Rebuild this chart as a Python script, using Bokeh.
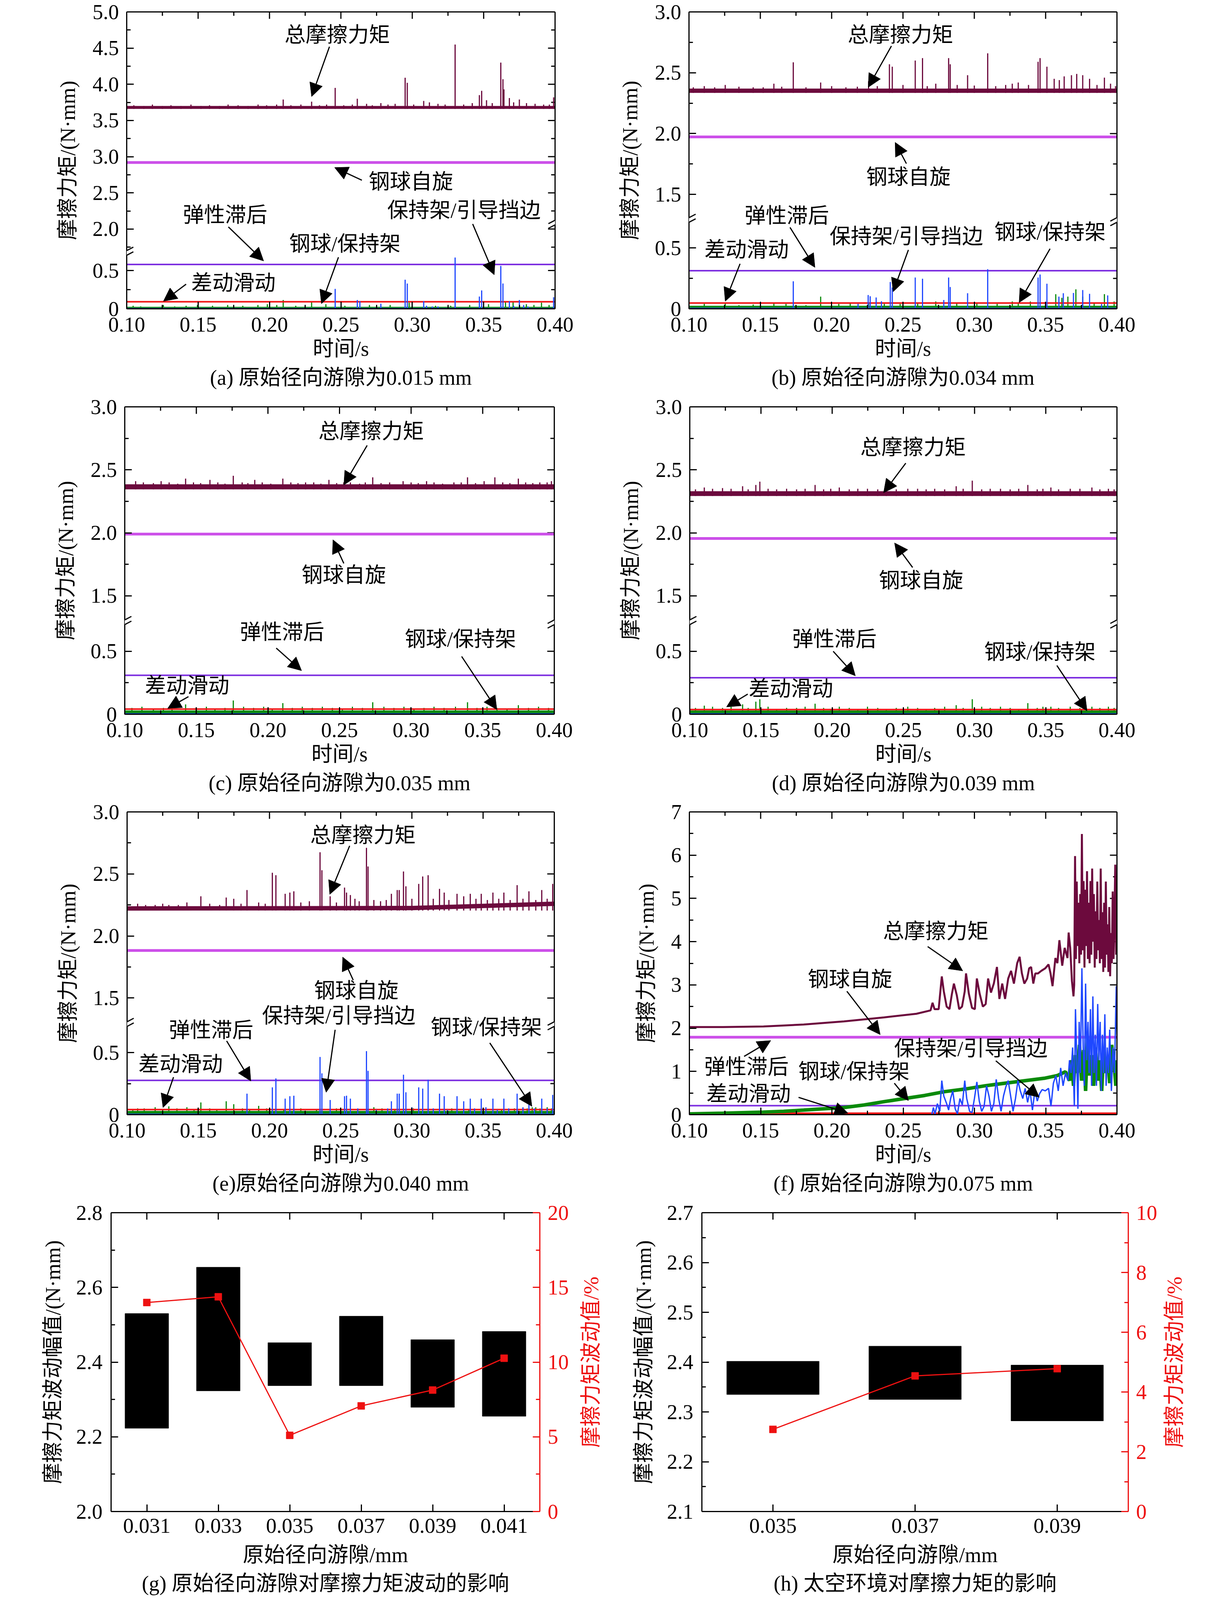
import math
from bokeh.plotting import figure
from bokeh.models import (Range1d, LinearAxis, FixedTicker, Label, Arrow, Title,
                          NormalHead, PrintfTickFormatter)
from bokeh.layouts import row, column
from bokeh.embed import file_html
from bokeh.resources import INLINE

FONT = "'Liberation Serif', 'Noto Sans CJK SC'"
FS = "54px"

# ---------------------------------------------------------------- data
Y_LABEL = "摩擦力矩/(N·mm)"
X_LABEL = "时间/s"
TIME_SPAN = [0.10, 0.40]
X_TICKS = [0.10, 0.15, 0.20, 0.25, 0.30, 0.35, 0.40]
X_MINOR = [0.125, 0.175, 0.225, 0.275, 0.325, 0.375]

# (a) clearance 0.015 mm
A_TOT_BASE, A_TOT_FUZZ = 3.66, 3.70
A_TOT_SPIKES = [(0.2096, 3.79), (0.2295, 3.76), (0.246, 3.95), (0.2615, 3.80), (0.278, 3.74),
                (0.295, 4.09), (0.2965, 4.02), (0.308, 3.77), (0.330, 4.55), (0.347, 3.85),
                (0.3486, 3.91), (0.362, 4.30), (0.3635, 4.07), (0.3642, 3.93), (0.368, 3.81),
                (0.375, 3.79), (0.399, 3.82),
                (0.105, 3.71), (0.112, 3.70), (0.118, 3.72), (0.125, 3.70), (0.131, 3.71),
                (0.138, 3.70), (0.145, 3.72), (0.152, 3.70), (0.158, 3.71), (0.165, 3.70),
                (0.171, 3.72), (0.178, 3.71), (0.185, 3.70), (0.192, 3.72), (0.198, 3.71),
                (0.205, 3.72), (0.215, 3.71), (0.222, 3.72), (0.235, 3.71), (0.240, 3.72),
                (0.252, 3.71), (0.258, 3.72), (0.268, 3.73), (0.272, 3.71), (0.283, 3.72),
                (0.288, 3.73), (0.301, 3.72), (0.312, 3.75), (0.318, 3.73), (0.323, 3.72),
                (0.336, 3.72), (0.342, 3.74), (0.352, 3.78), (0.356, 3.74), (0.371, 3.75),
                (0.380, 3.74), (0.386, 3.73), (0.392, 3.72), (0.396, 3.72)]
A_SPIN = 2.92
A_HYST = 0.58
A_DIFF = 0.092
A_GRN_FUZZ = 0.025
A_GRN_SPIKES = [(0.2096, 0.115), (0.2295, 0.10), (0.2978, 0.08), (0.3653, 0.10), (0.3706, 0.10),
                (0.3905, 0.08), (0.1045, 0.04), (0.1098, 0.03), (0.1257, 0.05), (0.1336, 0.03),
                (0.1416, 0.04), (0.1495, 0.05), (0.1601, 0.04), (0.1707, 0.05), (0.1813, 0.04),
                (0.1919, 0.05), (0.1985, 0.06), (0.2051, 0.05), (0.2184, 0.04), (0.2395, 0.06),
                (0.2528, 0.04), (0.2700, 0.05), (0.2845, 0.05), (0.3163, 0.04), (0.3269, 0.04),
                (0.3402, 0.05), (0.3534, 0.06), (0.3799, 0.06), (0.3852, 0.05), (0.3958, 0.05)]
A_BLU_SPIKES = [(0.246, 0.26), (0.2615, 0.115), (0.2633, 0.10), (0.278, 0.066), (0.295, 0.38),
                (0.2965, 0.33), (0.308, 0.10), (0.330, 0.67), (0.347, 0.16), (0.3486, 0.24),
                (0.362, 0.56), (0.3635, 0.33), (0.368, 0.10), (0.375, 0.115), (0.399, 0.15),
                (0.310, 0.04), (0.314, 0.03), (0.318, 0.03), (0.371, 0.04), (0.378, 0.05), (0.381, 0.03)]

# (b) clearance 0.034 mm
B_TOT_BASE, B_TOT_FUZZ = 2.335, 2.37
B_TOT_SPIKES = [(0.1731, 2.586), (0.1923, 2.42), (0.2405, 2.57), (0.2425, 2.55), (0.2586, 2.60),
                (0.2637, 2.62), (0.2820, 2.62), (0.2831, 2.57), (0.2953, 2.48), (0.3094, 2.66),
                (0.3447, 2.59), (0.3461, 2.62), (0.3509, 2.55), (0.3560, 2.45), (0.3596, 2.44),
                (0.3630, 2.47), (0.3681, 2.48), (0.3718, 2.49), (0.3760, 2.48), (0.3808, 2.45),
                (0.3912, 2.46), (0.3955, 2.41), (0.1254, 2.40), (0.1595, 2.41), (0.2259, 2.43),
                (0.2730, 2.41), (0.3266, 2.41), (0.3308, 2.42), (0.1107, 2.39),
                (0.103, 2.38), (0.118, 2.38), (0.135, 2.385), (0.145, 2.38), (0.152, 2.38),
                (0.165, 2.385), (0.182, 2.38), (0.200, 2.39), (0.210, 2.38), (0.218, 2.385),
                (0.232, 2.39), (0.250, 2.40), (0.267, 2.39), (0.288, 2.40), (0.300, 2.395),
                (0.315, 2.39), (0.322, 2.40), (0.338, 2.40), (0.386, 2.40), (0.399, 2.39)]
B_SPIN = 1.973
B_HYST = 0.313
B_DIFF = 0.047
B_GRN_FUZZ = 0.025
B_GRN_SPIKES = [(0.1107, 0.04), (0.1254, 0.05), (0.1595, 0.05), (0.1680, 0.04), (0.1923, 0.10),
                (0.2130, 0.05), (0.2259, 0.05), (0.2369, 0.04), (0.2603, 0.05), (0.2730, 0.06),
                (0.2877, 0.05), (0.3018, 0.05), (0.3266, 0.06), (0.3308, 0.05), (0.3393, 0.06),
                (0.3571, 0.12), (0.3614, 0.09), (0.3656, 0.10), (0.3712, 0.16), (0.3760, 0.10),
                (0.3912, 0.12), (0.3980, 0.06), (0.135, 0.03), (0.145, 0.035), (0.182, 0.03),
                (0.205, 0.04), (0.248, 0.04), (0.316, 0.04), (0.384, 0.05)]
B_BLU_SPIKES = [(0.1731, 0.226), (0.2185, 0.04), (0.2256, 0.113), (0.2270, 0.103), (0.2312, 0.093),
                (0.2349, 0.062), (0.2411, 0.22), (0.2425, 0.175), (0.2586, 0.257), (0.2637, 0.247),
                (0.2786, 0.072), (0.2820, 0.257), (0.2831, 0.179), (0.2953, 0.128), (0.3094, 0.325),
                (0.3447, 0.257), (0.3461, 0.282), (0.3509, 0.206), (0.3593, 0.10), (0.3624, 0.128),
                (0.3695, 0.13), (0.3760, 0.154), (0.3808, 0.123), (0.3892, 0.04), (0.3935, 0.11)]

# (c) clearance 0.035 mm
C_TOT_BASE, C_TOT_FUZZ = 2.345, 2.385
C_TOT_SPIKES = [(0.1758, 2.453), (0.1425, 2.43), (0.3394, 2.44), (0.3585, 2.44), (0.2732, 2.44),
                (0.2104, 2.43), (0.1076, 2.41), (0.1595, 2.42), (0.1908, 2.42), (0.2426, 2.42),
                (0.3108, 2.41), (0.3749, 2.43), (0.2944, 2.41), (0.1254, 2.41), (0.2263, 2.40),
                (0.2576, 2.40), (0.3299, 2.40), (0.3899, 2.40),
                (0.113, 2.40), (0.120, 2.395), (0.131, 2.40), (0.137, 2.39), (0.148, 2.40),
                (0.153, 2.395), (0.165, 2.40), (0.170, 2.39), (0.182, 2.40), (0.186, 2.395),
                (0.196, 2.40), (0.202, 2.39), (0.216, 2.40), (0.221, 2.395), (0.232, 2.40),
                (0.237, 2.39), (0.248, 2.395), (0.253, 2.40), (0.264, 2.39), (0.268, 2.40),
                (0.279, 2.395), (0.285, 2.40), (0.300, 2.40), (0.305, 2.395), (0.316, 2.40),
                (0.322, 2.39), (0.335, 2.40), (0.345, 2.395), (0.351, 2.41), (0.364, 2.40),
                (0.369, 2.395), (0.380, 2.40), (0.385, 2.395), (0.395, 2.40), (0.398, 2.41)]
C_SPIN = 1.99
C_HYST = 0.309
C_DIFF = 0.041
C_GRN_FUZZ = 0.03
C_GRN_SPIKES = [(0.1758, 0.109), (0.2732, 0.095), (0.3394, 0.095), (0.1425, 0.078), (0.2104, 0.088),
                (0.3749, 0.072), (0.105, 0.05), (0.112, 0.06), (0.120, 0.04), (0.127, 0.05),
                (0.133, 0.06), (0.150, 0.05), (0.157, 0.06), (0.163, 0.04), (0.170, 0.05),
                (0.183, 0.06), (0.190, 0.05), (0.197, 0.06), (0.203, 0.04), (0.217, 0.05),
                (0.224, 0.06), (0.231, 0.05), (0.238, 0.06), (0.245, 0.05), (0.252, 0.04),
                (0.259, 0.06), (0.266, 0.05), (0.281, 0.06), (0.288, 0.05), (0.295, 0.06),
                (0.302, 0.04), (0.309, 0.05), (0.316, 0.06), (0.323, 0.05), (0.331, 0.06),
                (0.346, 0.05), (0.353, 0.06), (0.360, 0.05), (0.367, 0.04), (0.382, 0.05),
                (0.389, 0.06), (0.396, 0.05)]
C_BLU_SPIKES = []

# (d) clearance 0.039 mm
D_TOT_BASE, D_TOT_FUZZ = 2.292, 2.33
D_TOT_SPIKES = [(0.1492, 2.406), (0.2984, 2.414), (0.3374, 2.38), (0.1464, 2.38), (0.1371, 2.37),
                (0.1880, 2.38), (0.1102, 2.36), (0.2871, 2.37), (0.3824, 2.36), (0.3536, 2.36),
                (0.2050, 2.36), (0.2531, 2.35), (0.3182, 2.35), (0.2248, 2.35), (0.3672, 2.35),
                (0.104, 2.345), (0.116, 2.35), (0.123, 2.355), (0.129, 2.35), (0.141, 2.345),
                (0.155, 2.35), (0.161, 2.345), (0.168, 2.35), (0.175, 2.345), (0.181, 2.35),
                (0.194, 2.345), (0.199, 2.35), (0.212, 2.345), (0.218, 2.35), (0.232, 2.345),
                (0.238, 2.35), (0.245, 2.345), (0.260, 2.35), (0.266, 2.345), (0.272, 2.35),
                (0.279, 2.345), (0.292, 2.35), (0.305, 2.345), (0.311, 2.35), (0.325, 2.345),
                (0.331, 2.35), (0.344, 2.345), (0.348, 2.35), (0.359, 2.345), (0.374, 2.35),
                (0.388, 2.345), (0.394, 2.35), (0.398, 2.345)]
D_SPIN = 1.955
D_HYST = 0.29
D_DIFF = 0.037
D_GRN_FUZZ = 0.03
D_GRN_SPIKES = [(0.1492, 0.119), (0.2984, 0.119), (0.1880, 0.084), (0.1464, 0.10), (0.3374, 0.088),
                (0.1371, 0.078), (0.1102, 0.068), (0.2871, 0.072), (0.104, 0.05), (0.116, 0.06),
                (0.123, 0.05), (0.129, 0.06), (0.141, 0.05), (0.155, 0.06), (0.161, 0.04),
                (0.168, 0.05), (0.175, 0.05), (0.181, 0.06), (0.194, 0.05), (0.199, 0.04),
                (0.2050, 0.06), (0.212, 0.05), (0.218, 0.04), (0.2248, 0.06), (0.232, 0.05),
                (0.238, 0.04), (0.245, 0.05), (0.2531, 0.06), (0.260, 0.05), (0.266, 0.04),
                (0.272, 0.05), (0.279, 0.06), (0.292, 0.05), (0.305, 0.06), (0.311, 0.05),
                (0.3182, 0.06), (0.325, 0.05), (0.331, 0.04), (0.344, 0.05), (0.348, 0.06),
                (0.3536, 0.06), (0.359, 0.05), (0.3672, 0.06), (0.374, 0.05), (0.3824, 0.06),
                (0.388, 0.05), (0.394, 0.06), (0.398, 0.05)]
D_BLU_SPIKES = []

# (e) clearance 0.040 mm
E_TOT_BASE, E_TOT_FUZZ = 2.205, 2.24
E_TOT_TREND_T = [0.10, 0.30, 0.40]
E_TOT_TREND_V = [2.222, 2.225, 2.26]
E_TOT_SPIKES = [(0.1518, 2.32), (0.1696, 2.31), (0.1749, 2.30), (0.1842, 2.37), (0.2020, 2.51),
                (0.2045, 2.49), (0.2110, 2.34), (0.2143, 2.35), (0.2171, 2.36), (0.2355, 2.675),
                (0.2368, 2.53), (0.2426, 2.32), (0.2527, 2.39), (0.2541, 2.35), (0.2568, 2.33),
                (0.2681, 2.71), (0.2692, 2.56), (0.2733, 2.29), (0.2856, 2.34), (0.2897, 2.37),
                (0.2911, 2.37), (0.2941, 2.52), (0.2958, 2.40), (0.3048, 2.42), (0.3076, 2.48),
                (0.3114, 2.49), (0.3194, 2.38), (0.3227, 2.35), (0.3317, 2.34), (0.3364, 2.32),
                (0.3410, 2.34), (0.3487, 2.34), (0.3569, 2.35), (0.3646, 2.35), (0.3739, 2.41),
                (0.3822, 2.36), (0.3912, 2.37), (0.3989, 2.42), (0.1924, 2.27), (0.1420, 2.27),
                (0.1293, 2.25), (0.1197, 2.25), (0.1074, 2.26), (0.113, 2.25), (0.125, 2.26),
                (0.136, 2.25), (0.158, 2.26), (0.165, 2.25), (0.180, 2.26), (0.197, 2.26),
                (0.222, 2.27), (0.228, 2.28), (0.247, 2.27), (0.260, 2.30), (0.263, 2.28),
                (0.278, 2.28), (0.282, 2.29), (0.300, 2.30), (0.315, 2.30), (0.326, 2.29),
                (0.345, 2.30), (0.353, 2.29), (0.361, 2.30), (0.369, 2.29), (0.378, 2.30),
                (0.387, 2.29), (0.395, 2.30)]
E_SPIN = 1.883
E_HYST = 0.276
E_DIFF = 0.041
E_GRN_FUZZ = 0.03
E_GRN_SPIKES = [(0.1518, 0.098), (0.1696, 0.108), (0.1749, 0.084), (0.1293, 0.067), (0.1420, 0.06),
                (0.1074, 0.05), (0.1197, 0.06), (0.1924, 0.071), (0.2733, 0.06), (0.3845, 0.06),
                (0.390, 0.05), (0.395, 0.06), (0.104, 0.04), (0.112, 0.05), (0.125, 0.04),
                (0.135, 0.05), (0.147, 0.04), (0.158, 0.05), (0.163, 0.04), (0.181, 0.05),
                (0.186, 0.04), (0.198, 0.05), (0.210, 0.04), (0.222, 0.05), (0.233, 0.04),
                (0.247, 0.05), (0.262, 0.04), (0.279, 0.05), (0.288, 0.04), (0.301, 0.05),
                (0.315, 0.04), (0.328, 0.05), (0.340, 0.04), (0.352, 0.05), (0.363, 0.045),
                (0.372, 0.05), (0.378, 0.055), (0.381, 0.05), (0.387, 0.06), (0.398, 0.05)]
E_BLU_SPIKES = [(0.1842, 0.169), (0.2020, 0.22), (0.2045, 0.292), (0.2110, 0.129), (0.2143, 0.149),
                (0.2171, 0.153), (0.2355, 0.465), (0.2368, 0.333), (0.2426, 0.118), (0.2527, 0.149),
                (0.2541, 0.153), (0.2568, 0.129), (0.2681, 0.512), (0.2692, 0.353), (0.2856, 0.108),
                (0.2897, 0.169), (0.2911, 0.169), (0.2941, 0.322), (0.2958, 0.18), (0.3048, 0.22),
                (0.3076, 0.21), (0.3114, 0.282), (0.3194, 0.169), (0.3227, 0.149), (0.3317, 0.149),
                (0.3364, 0.108), (0.3410, 0.129), (0.3487, 0.129), (0.3569, 0.129), (0.3646, 0.129),
                (0.3739, 0.169), (0.3822, 0.129), (0.3912, 0.129), (0.3989, 0.159),
                (0.262, 0.05), (0.275, 0.04), (0.283, 0.05), (0.300, 0.06), (0.315, 0.05),
                (0.325, 0.04), (0.344, 0.05), (0.352, 0.06), (0.360, 0.04), (0.368, 0.05),
                (0.378, 0.06), (0.386, 0.05), (0.395, 0.05)]

# (f) clearance 0.075 mm
F_SPIN = 1.79
F_HYST = 0.207
F_DIFF = 0.03
F_TOT = [(0.1000, 2.026), (0.1237, 2.026), (0.1520, 2.038), (0.1802, 2.085), (0.2085, 2.156),
         (0.2367, 2.250), (0.2593, 2.333), (0.2692, 2.410), (0.2706, 2.587), (0.2720, 2.439),
         (0.2749, 2.439), (0.2771, 3.196), (0.2785, 2.853), (0.2805, 2.499), (0.2825, 2.439),
         (0.2842, 2.794), (0.2856, 3.030), (0.2876, 2.764), (0.2893, 2.439), (0.2913, 2.499),
         (0.2932, 2.853), (0.2941, 3.266), (0.2961, 2.794), (0.2983, 2.469), (0.3003, 2.439),
         (0.3017, 3.148), (0.3037, 2.794), (0.3059, 2.499), (0.3079, 2.558), (0.3096, 3.148),
         (0.3116, 2.823), (0.3136, 3.030), (0.3158, 3.414), (0.3175, 2.676), (0.3195, 3.030),
         (0.3215, 2.676), (0.3237, 3.148), (0.3257, 3.325), (0.3277, 3.030), (0.3300, 3.503),
         (0.3317, 3.650), (0.3333, 3.266), (0.3350, 3.030), (0.3370, 3.148), (0.3384, 3.384),
         (0.3398, 3.414), (0.3413, 3.030), (0.3427, 3.266), (0.3446, 3.266), (0.3469, 3.325),
         (0.3497, 3.384), (0.3520, 3.473), (0.3534, 3.266), (0.3548, 2.971), (0.3568, 3.621),
         (0.3582, 3.503), (0.3596, 4.034), (0.3616, 3.444), (0.3633, 3.857), (0.3653, 3.621),
         (0.3661, 4.211), (0.3672, 3.857), (0.3684, 3.089), (0.3695, 2.735), (0.3700, 3.0),
         (0.3706, 5.98), (0.3712, 3.6), (0.3718, 5.39), (0.3724, 3.9), (0.3730, 4.9),
         (0.3736, 3.5), (0.3742, 5.1), (0.3748, 3.7), (0.3754, 6.49), (0.3760, 3.8),
         (0.3766, 5.4), (0.3772, 3.4), (0.3778, 5.2), (0.3784, 3.9), (0.3790, 5.63),
         (0.3796, 3.6), (0.3802, 4.9), (0.3808, 3.5), (0.3814, 5.4), (0.3820, 3.7),
         (0.3826, 5.69), (0.3832, 4.0), (0.3838, 5.1), (0.3844, 3.4), (0.3850, 4.7),
         (0.3856, 3.6), (0.3862, 5.39), (0.3868, 3.8), (0.3874, 4.5), (0.3880, 3.5),
         (0.3886, 5.69), (0.3892, 3.6), (0.3898, 4.68), (0.3904, 3.3), (0.3910, 4.9),
         (0.3916, 3.4), (0.3922, 5.39), (0.3928, 3.7), (0.3934, 4.4), (0.3940, 3.3),
         (0.3946, 4.8), (0.3952, 3.2), (0.3958, 4.2), (0.3964, 3.5), (0.3970, 5.16),
         (0.3976, 3.6), (0.3982, 4.5), (0.3988, 5.78), (0.3994, 3.7), (0.4000, 5.0)]
F_GRN = [(0.100, 0.018), (0.1237, 0.035), (0.152, 0.059), (0.1661, 0.077), (0.1802, 0.106),
         (0.1944, 0.136), (0.2085, 0.165), (0.2226, 0.224), (0.2367, 0.301), (0.2509, 0.372),
         (0.2650, 0.443), (0.2791, 0.532), (0.2932, 0.591), (0.3074, 0.667), (0.3215, 0.727),
         (0.3356, 0.786), (0.3497, 0.845), (0.3582, 0.904), (0.3639, 0.992), (0.3667, 0.786),
         (0.3681, 1.258), (0.3695, 0.667), (0.3709, 1.376), (0.3723, 0.963), (0.3737, 1.613),
         (0.3752, 0.786), (0.3766, 1.494), (0.3780, 0.549), (0.3794, 1.731), (0.3808, 0.904),
         (0.3822, 1.376), (0.3836, 0.667), (0.3850, 1.553), (0.3865, 0.786), (0.3879, 1.258),
         (0.3893, 0.549), (0.3907, 1.494), (0.3921, 0.963), (0.3935, 1.317), (0.3949, 0.727),
         (0.3963, 1.613), (0.3978, 1.258), (0.3992, 0.667), (0.4000, 1.258)]
F_BLU = [(0.2701, 0.00), (0.2712, 0.165), (0.2723, 0.018), (0.2740, 0.254), (0.2757, 0.077),
         (0.2771, 0.786), (0.2785, 0.431), (0.2805, 0.254), (0.2819, 0.106), (0.2833, 0.372),
         (0.2848, 0.549), (0.2865, 0.136), (0.2881, 0.018), (0.2898, 0.372), (0.2915, 0.224),
         (0.2932, 0.786), (0.2946, 0.372), (0.2966, 0.077), (0.2983, 0.047), (0.3000, 0.372),
         (0.3017, 0.756), (0.3034, 0.313), (0.3051, 0.077), (0.3068, 0.195), (0.3085, 0.667),
         (0.3102, 0.431), (0.3119, 0.077), (0.3136, 0.254), (0.3153, 0.815), (0.3170, 0.372),
         (0.3187, 0.077), (0.3204, 0.431), (0.3220, 0.638), (0.3237, 0.786), (0.3254, 0.431),
         (0.3271, 0.077), (0.3288, 0.372), (0.3305, 0.786), (0.3322, 0.549), (0.3339, 0.372),
         (0.3356, 0.608), (0.3373, 0.284), (0.3390, 0.549), (0.3407, 0.106), (0.3424, 0.549),
         (0.3441, 0.313), (0.3458, 0.490), (0.3475, 0.579), (0.3497, 0.549), (0.3520, 0.608),
         (0.3537, 0.195), (0.3554, 0.727), (0.3571, 0.904), (0.3588, 0.549), (0.3605, 1.081),
         (0.3622, 0.667), (0.3639, 0.963), (0.3656, 0.786), (0.3667, 1.258), (0.3678, 0.963),
         (0.3689, 1.553), (0.3701, 0.195), (0.3709, 2.439), (0.3718, 1.258), (0.3726, 0.136),
         (0.3735, 2.144), (0.3743, 0.963), (0.3754, 3.385), (0.3763, 1.553), (0.3771, 0.667),
         (0.3780, 3.030), (0.3788, 1.258), (0.3797, 2.144), (0.3805, 0.963), (0.3814, 2.439),
         (0.3822, 0.667), (0.3831, 2.735), (0.3839, 0.963), (0.3848, 1.849), (0.3856, 0.667),
         (0.3865, 2.558), (0.3873, 1.258), (0.3882, 2.144), (0.3890, 0.549), (0.3898, 1.849),
         (0.3907, 0.963), (0.3915, 2.321), (0.3924, 0.667), (0.3932, 1.553), (0.3941, 0.963),
         (0.3949, 1.967), (0.3961, 0.549), (0.3972, 1.553), (0.3983, 0.963), (0.3995, 2.971),
         (0.4000, 1.849)]

# (g) effect of original radial clearance
G_CLEAR = [0.031, 0.033, 0.035, 0.037, 0.039, 0.041]
G_LOW = [2.223, 2.323, 2.337, 2.337, 2.279, 2.255]
G_HIGH = [2.530, 2.654, 2.452, 2.523, 2.460, 2.482]
G_PCT = [13.99, 14.37, 5.10, 7.07, 8.13, 10.26]

# (h) effect of the space environment
H_CLEAR = [0.035, 0.037, 0.039]
H_LOW = [2.335, 2.325, 2.282]
H_HIGH = [2.4016, 2.432, 2.394]
H_PCT = [2.75, 4.54, 4.78]

# ---------------------------------------------------------------- style
COL_TOT = "#6c0a3d"
COL_SPIN = "#cc4fe9"
COL_HYST = "#7d2fe0"
COL_DIFF = "#f01414"
COL_GRN = "#0b8a0b"
COL_BLU = "#1f48ff"
COL_RED = "#ee1111"


def style_axis(ax, color="black", label=None, tick_standoff=20, label_standoff=30):
    ax.axis_line_color = color
    ax.axis_line_width = 3
    ax.major_tick_line_color = color
    ax.major_tick_line_width = 3
    ax.minor_tick_line_color = color
    ax.minor_tick_line_width = 3
    ax.major_tick_in = 18
    ax.major_tick_out = 0
    ax.minor_tick_in = 10
    ax.minor_tick_out = 0
    ax.major_label_text_font = FONT
    ax.major_label_text_color = color
    ax.major_label_text_font_size = FS
    ax.major_label_standoff = tick_standoff
    ax.axis_label_text_font = FONT
    ax.axis_label_text_font_size = FS
    ax.axis_label_text_font_style = "normal"
    ax.axis_label_text_color = color
    ax.axis_label_standoff = label_standoff
    if label is not None:
        ax.axis_label = label


def plain_axis(p, side):
    # a bare frame line (no ticks, no labels) on the given side
    ax = LinearAxis(ticker=FixedTicker(ticks=[], minor_ticks=[]))
    ax.axis_line_color = "black"
    ax.axis_line_width = 3
    ax.major_tick_in = 0
    ax.major_tick_out = 0
    ax.minor_tick_in = 0
    ax.minor_tick_out = 0
    ax.major_label_standoff = 0
    p.add_layout(ax, side)


def new_fig(geom, xr, yr):
    W, H, bl, br, bt, bb = geom
    p = figure(width=W, height=H, x_range=xr, y_range=yr, output_backend="svg",
               toolbar_location=None, min_border_left=bl, min_border_right=br,
               min_border_top=bt, min_border_bottom=bb)
    p.grid.visible = False
    p.outline_line_color = None
    p.background_fill_color = "white"
    p.border_fill_color = "white"
    return p


def add_caption(p, text, dx, standoff):
    p.add_layout(Title(text=text, align="center", offset=dx, standoff=standoff,
                       text_font=FONT, text_font_size=FS, text_font_style="normal",
                       text_color="black"), "below")


def inner_ticks(p, xs_top, x_top_minor, y_top, ys_right, ys_right_minor, x_right, px, py):
    n = len(xs_top)
    p.segment(x0=xs_top, y0=[y_top] * n, x1=xs_top, y1=[y_top - 18 * py] * n,
              line_color="black", line_width=3)
    m = len(x_top_minor)
    if m:
        p.segment(x0=x_top_minor, y0=[y_top] * m, x1=x_top_minor, y1=[y_top - 10 * py] * m,
                  line_color="black", line_width=3)
    if ys_right is not None:
        k = len(ys_right)
        p.segment(x0=[x_right] * k, y0=ys_right, x1=[x_right - 18 * px] * k, y1=ys_right,
                  line_color="black", line_width=3)
        j = len(ys_right_minor)
        if j:
            p.segment(x0=[x_right] * j, y0=ys_right_minor, x1=[x_right - 10 * px] * j,
                      y1=ys_right_minor, line_color="black", line_width=3)


def brk_map(lo_top, hi_bot, k):
    def f(v):
        if v <= lo_top:
            return v
        if v >= hi_bot:
            return lo_top + (v - hi_bot) * k
        return lo_top
    return f


def ident(v):
    return v


def add_note(p, f, text, tx, ty, x0, y0, x1, y1):
    p.add_layout(Label(x=tx, y=f(ty), text=text, text_font=FONT, text_font_size=FS,
                       text_color="black", text_align="center", text_baseline="middle"))
    p.add_layout(Arrow(end=NormalHead(size=34, fill_color="black", line_color="black"),
                       x_start=x0, y_start=f(y0), x_end=x1, y_end=f(y1),
                       line_color="black", line_width=3))


def add_break(p, x, yd, px, py):
    p.add_layout(Arrow(end=None, x_start=x, y_start=yd - 6 * py, x_end=x, y_end=yd + 6 * py,
                       line_color="white", line_width=9))
    for off in (-6, 6):
        p.add_layout(Arrow(end=None, x_start=x - 17 * px, y_start=yd + (off - 9) * py,
                           x_end=x + 17 * px, y_end=yd + (off + 9) * py,
                           line_color="black", line_width=3))


def unzip(pairs):
    return [a for a, _ in pairs], [b for _, b in pairs]


def ts_panel(geom, f, ymax, ymaj, ymin, ylabs, caption, cap_dx, brk_l, brk_r):
    W, H, bl, br, bt, bb = geom
    dtop = f(ymax)
    fw, fh = W - bl - br, H - bt - bb
    px, py = 0.3 / fw, dtop / fh
    p = new_fig(geom, Range1d(0.1, 0.4), Range1d(0, dtop))
    ymaj_d = [f(v) for v in ymaj]
    ymin_d = [f(v) for v in ymin]
    xt = FixedTicker(ticks=X_TICKS, minor_ticks=X_MINOR)
    yt = FixedTicker(ticks=ymaj_d, minor_ticks=ymin_d)
    xa = p.xaxis[0]
    ya = p.yaxis[0]
    xa.ticker = xt
    xa.formatter = PrintfTickFormatter(format="%.2f")
    style_axis(xa, label=X_LABEL, tick_standoff=22, label_standoff=11)
    ya.ticker = yt
    ya.major_label_overrides = {k: v for k, v in zip(ymaj_d, ylabs)}
    style_axis(ya, label=Y_LABEL, tick_standoff=20, label_standoff=30)
    plain_axis(p, "above")
    plain_axis(p, "right")
    inner_ticks(p, X_TICKS, X_MINOR, dtop, ymaj_d, ymin_d, 0.4, px, py)
    add_caption(p, caption, cap_dx, 18)
    if brk_l is not None:
        add_break(p, 0.1, f(brk_l), px, py)
    if brk_r is not None:
        add_break(p, 0.4, f(brk_r), px, py)
    return p, px, py


def draw_flat_panel(p, f, py, tot_base, tot_fuzz, tot_spikes, spin, hyst, diff,
                    grn_fuzz, grn_spikes, blu_spikes, trend=None):
    p.line(TIME_SPAN, [f(hyst)] * 2, line_color=COL_HYST, line_width=4)
    p.line(TIME_SPAN, [f(spin)] * 2, line_color=COL_SPIN, line_width=7)
    st, sv = unzip(tot_spikes)
    p.segment(x0=st, y0=[f(tot_base)] * len(st), x1=st, y1=[f(v) for v in sv],
              line_color=COL_TOT, line_width=3)
    band = (f(tot_fuzz) - f(tot_base)) / py
    if trend is None:
        p.line(TIME_SPAN, [f((tot_base + tot_fuzz) / 2)] * 2, line_color=COL_TOT, line_width=band)
    else:
        p.line(trend[0], [f(v) for v in trend[1]], line_color=COL_TOT, line_width=band)
    gt, gv = unzip(grn_spikes)
    p.segment(x0=gt, y0=[0] * len(gt), x1=gt, y1=[f(v) for v in gv],
              line_color=COL_GRN, line_width=3)
    p.line(TIME_SPAN, [f(grn_fuzz / 2)] * 2, line_color=COL_GRN, line_width=grn_fuzz / py)
    p.line(TIME_SPAN, [f(diff)] * 2, line_color=COL_DIFF, line_width=4)
    p.line(TIME_SPAN, [0.004, 0.004], line_color=COL_BLU, line_width=3)
    if blu_spikes:
        bt_, bv = unzip(blu_spikes)
        p.segment(x0=bt_, y0=[0] * len(bt_), x1=bt_, y1=[f(v) for v in bv],
                  line_color=COL_BLU, line_width=3)


# geometry: (width, height, border_left, border_right, border_top, border_bottom)
GA = (1560, 1005, 324, 139, 30, 206)
GB = (1574, 1005, 204, 274, 30, 206)
GC = (1560, 1040, 319, 141, 36, 217)
GD = (1574, 1040, 206, 274, 36, 217)
GE = (1560, 1023, 325, 141, 33, 207)
GF = (1574, 1023, 205, 274, 33, 207)
GG = (1480, 1024, 284, 98, 36, 207)
GG_LAB = (80, 1024, 70, 0, 36, 207)
GH = (1417, 1024, 237, 88, 36, 207)
GH_LAB = (157, 1024, 52, 95, 36, 207)

# ---- (a)
fa = brk_map(0.73, 1.67, 0.946)
pa, pxa, pya = ts_panel(GA, fa, 5.0,
                        [0, 0.5, 2.0, 2.5, 3.0, 3.5, 4.0, 4.5, 5.0],
                        [0.25, 1.75, 2.25, 2.75, 3.25, 3.75, 4.25, 4.75],
                        ["0", "0.5", "2.0", "2.5", "3.0", "3.5", "4.0", "4.5", "5.0"],
                        "(a) 原始径向游隙为0.015 mm", -13, 0.73, 2.09)
draw_flat_panel(pa, fa, pya, A_TOT_BASE, A_TOT_FUZZ, A_TOT_SPIKES, A_SPIN, A_HYST, A_DIFF,
                A_GRN_FUZZ, A_GRN_SPIKES, A_BLU_SPIKES)
add_note(pa, fa, "总摩擦力矩", 0.2475, 4.68, 0.242, 4.52, 0.2295, 3.83)
add_note(pa, fa, "钢球自旋", 0.299, 2.65, 0.2647, 2.675, 0.2456, 2.85)
add_note(pa, fa, "弹性滞后", 0.1689, 2.19, 0.1712, 2.03, 0.1959, 0.625)
add_note(pa, fa, "钢球/保持架", 0.2528, 1.79, 0.2483, 0.674, 0.2364, 0.066)
add_note(pa, fa, "保持架/引导挡边", 0.3362, 2.255, 0.3423, 2.07, 0.3574, 0.444)
add_note(pa, fa, "差动滑动", 0.1747, 0.336, 0.1416, 0.322, 0.1257, 0.099)

# ---- (b)..(e) share the same broken axis
Y_MAJ = [0, 0.5, 1.5, 2.0, 2.5, 3.0]
Y_MIN = [0.25, 1.75, 2.25, 2.75]
Y_LAB = ["0", "0.5", "1.5", "2.0", "2.5", "3.0"]
fb = brk_map(0.73, 1.29, 1.0)

pb, pxb, pyb = ts_panel(GB, fb, 3.0, Y_MAJ, Y_MIN, Y_LAB,
                        "(b) 原始径向游隙为0.034 mm", -7, 0.73, 0.73)
draw_flat_panel(pb, fb, pyb, B_TOT_BASE, B_TOT_FUZZ, B_TOT_SPIKES, B_SPIN, B_HYST, B_DIFF,
                B_GRN_FUZZ, B_GRN_SPIKES, B_BLU_SPIKES)
add_note(pb, fb, "总摩擦力矩", 0.2482, 2.81, 0.2419, 2.72, 0.2256, 2.38)
add_note(pb, fb, "钢球自旋", 0.2538, 1.64, 0.2524, 1.753, 0.2445, 1.928)
add_note(pb, fb, "弹性滞后", 0.1686, 1.323, 0.1708, 0.669, 0.1883, 0.34)
add_note(pb, fb, "差动滑动", 0.1404, 0.484, 0.1358, 0.37, 0.1254, 0.062)
add_note(pb, fb, "保持架/引导挡边", 0.2524, 0.593, 0.2538, 0.484, 0.2431, 0.14)
add_note(pb, fb, "钢球/保持架", 0.3531, 0.628, 0.3531, 0.494, 0.3314, 0.051)

pc, pxc, pyc = ts_panel(GC, fb, 3.0, Y_MAJ, Y_MIN, Y_LAB,
                        "(c) 原始径向游隙为0.035 mm", 19, 0.73, 0.73)
draw_flat_panel(pc, fb, pyc, C_TOT_BASE, C_TOT_FUZZ, C_TOT_SPIKES, C_SPIN, C_HYST, C_DIFF,
                C_GRN_FUZZ, C_GRN_SPIKES, C_BLU_SPIKES)
add_note(pc, fb, "总摩擦力矩", 0.2721, 2.804, 0.2693, 2.694, 0.2530, 2.38)
add_note(pc, fb, "钢球自旋", 0.2530, 1.663, 0.2530, 1.757, 0.2454, 1.945)
add_note(pc, fb, "弹性滞后", 0.2099, 0.648, 0.2058, 0.525, 0.2235, 0.346)
add_note(pc, fb, "钢球/保持架", 0.3345, 0.593, 0.3353, 0.459, 0.3599, 0.037)
add_note(pc, fb, "差动滑动", 0.1436, 0.226, 0.1445, 0.14, 0.1300, 0.047)

pd_, pxd, pyd = ts_panel(GD, fb, 3.0, Y_MAJ, Y_MIN, Y_LAB,
                         "(d) 原始径向游隙为0.039 mm", 17, 0.73, 0.73)
draw_flat_panel(pd_, fb, pyd, D_TOT_BASE, D_TOT_FUZZ, D_TOT_SPIKES, D_SPIN, D_HYST, D_DIFF,
                D_GRN_FUZZ, D_GRN_SPIKES, D_BLU_SPIKES)
add_note(pd_, fb, "总摩擦力矩", 0.2568, 2.676, 0.2517, 2.553, 0.2361, 2.318)
add_note(pd_, fb, "钢球自旋", 0.2624, 1.619, 0.2565, 1.725, 0.2438, 1.92)
add_note(pd_, fb, "弹性滞后", 0.2016, 0.593, 0.2007, 0.5, 0.2163, 0.305)
add_note(pd_, fb, "钢球/保持架", 0.3459, 0.49, 0.3578, 0.387, 0.3790, 0.027)
add_note(pd_, fb, "差动滑动", 0.1710, 0.2, 0.1407, 0.16, 0.1258, 0.058)

pe, pxe, pye = ts_panel(GE, fb, 3.0, Y_MAJ, Y_MIN, Y_LAB,
                        "(e)原始径向游隙为0.040 mm", -15, 0.73, 0.73)
draw_flat_panel(pe, fb, pye, E_TOT_BASE, E_TOT_FUZZ, E_TOT_SPIKES, E_SPIN, E_HYST, E_DIFF,
                E_GRN_FUZZ, E_GRN_SPIKES, E_BLU_SPIKES, trend=(E_TOT_TREND_T, E_TOT_TREND_V))
add_note(pe, fb, "总摩擦力矩", 0.2656, 2.81, 0.2563, 2.727, 0.2423, 2.335)
add_note(pe, fb, "钢球自旋", 0.2610, 1.556, 0.2588, 1.644, 0.2514, 1.83)
add_note(pe, fb, "保持架/引导挡边", 0.2486, 1.356, 0.2461, 0.684, 0.2398, 0.18)
add_note(pe, fb, "弹性滞后", 0.1590, 0.68, 0.1699, 0.594, 0.1869, 0.271)
add_note(pe, fb, "钢球/保持架", 0.3523, 0.70, 0.3547, 0.578, 0.3843, 0.067)
add_note(pe, fb, "差动滑动", 0.1376, 0.404, 0.1326, 0.302, 0.1252, 0.057)

# ---- (f) continuous axis
pf, pxf, pyf = ts_panel(GF, ident, 7.0, [0, 1, 2, 3, 4, 5, 6, 7],
                        [0.5, 1.5, 2.5, 3.5, 4.5, 5.5, 6.5],
                        ["0", "1", "2", "3", "4", "5", "6", "7"],
                        "(f) 原始径向游隙为0.075 mm", 5, None, None)
pf.line(TIME_SPAN, [F_DIFF] * 2, line_color=COL_DIFF, line_width=5)
pf.line(TIME_SPAN, [F_HYST] * 2, line_color=COL_HYST, line_width=4)
pf.line(TIME_SPAN, [F_SPIN] * 2, line_color=COL_SPIN, line_width=7)
ft, fv = unzip(F_TOT)
pf.line(ft, fv, line_color=COL_TOT, line_width=5)
gt_, gv_ = unzip(F_GRN)
pf.line(gt_, gv_, line_color=COL_GRN, line_width=9)
bt2, bv2 = unzip(F_BLU)
pf.line(bt2, bv2, line_color=COL_BLU, line_width=3.5)
add_note(pf, ident, "总摩擦力矩", 0.2729, 4.23, 0.2672, 3.886, 0.2918, 3.325)
add_note(pf, ident, "钢球自旋", 0.2127, 3.12, 0.2105, 2.853, 0.2339, 1.85)
add_note(pf, ident, "弹性滞后", 0.1401, 1.093, 0.1384, 1.347, 0.1571, 1.713)
add_note(pf, ident, "钢球/保持架", 0.2155, 0.99, 0.2438, 0.727, 0.2537, 0.325)
add_note(pf, ident, "保持架/引导挡边", 0.2975, 1.524, 0.3150, 1.246, 0.3455, 0.40)
add_note(pf, ident, "差动滑动", 0.1415, 0.478, 0.1766, 0.40, 0.2113, 0.035)


# ---- (g), (h) floating bars with percentage line
def bar_panel(geom, xr, yr, cats, low, high, pct, barw, ymaj, ymin, rmax, rmaj, rmin,
              caption, cap_dx):
    W, H, bl, br, bt, bb = geom
    fw, fh = W - bl - br, H - bt - bb
    px = (xr[1] - xr[0]) / fw
    py = (yr[1] - yr[0]) / fh
    p = new_fig(geom, Range1d(*xr), Range1d(*yr))
    p.extra_y_ranges = {"pct": Range1d(0, rmax)}
    xt = FixedTicker(ticks=cats, minor_ticks=[])
    xa = p.xaxis[0]
    xa.ticker = xt
    xa.formatter = PrintfTickFormatter(format="%.3f")
    style_axis(xa, label="原始径向游隙/mm", tick_standoff=18, label_standoff=24)
    ya = p.yaxis[0]
    ya.ticker = FixedTicker(ticks=ymaj, minor_ticks=ymin)
    ya.formatter = PrintfTickFormatter(format="%.1f")
    style_axis(ya, label="摩擦力矩波动幅值/(N·mm)", tick_standoff=22, label_standoff=26)
    plain_axis(p, "above")
    inner_ticks(p, cats, [], yr[1], None, None, xr[1], px, py)
    ra = LinearAxis(y_range_name="pct", ticker=FixedTicker(ticks=rmaj, minor_ticks=rmin),
                    formatter=PrintfTickFormatter(format="%d"))
    style_axis(ra, color=COL_RED, tick_standoff=20)
    p.add_layout(ra, "right")
    p.vbar(x=cats, width=barw, bottom=low, top=high, fill_color="black", line_color="black")
    p.line(cats, pct, y_range_name="pct", line_color=COL_RED, line_width=3)
    p.scatter(cats, pct, y_range_name="pct", marker="square", size=18,
              fill_color=COL_RED, line_color=COL_RED)
    add_caption(p, caption, cap_dx, 17)
    return p


def side_title(geom, text, standoff):
    # narrow companion figure that carries the red right-hand axis title (reads upwards)
    p = new_fig(geom, Range1d(0, 1), Range1d(0, 1))
    p.xaxis.visible = False
    ax = p.yaxis[0]
    ax.ticker = FixedTicker(ticks=[], minor_ticks=[])
    style_axis(ax, color=COL_RED, label=text, tick_standoff=0, label_standoff=standoff)
    ax.axis_line_color = None
    ax.major_tick_in = 0
    ax.minor_tick_in = 0
    return p


pg = bar_panel(GG, (0.030, 0.042), (2.0, 2.8), G_CLEAR, G_LOW, G_HIGH, G_PCT, 0.00122,
               [2.0, 2.2, 2.4, 2.6, 2.8], [2.1, 2.3, 2.5, 2.7],
               20, [0, 5, 10, 15, 20], [2.5, 7.5, 12.5, 17.5],
               "(g) 原始径向游隙对摩擦力矩波动的影响", 33)
pg_t = side_title(GG_LAB, "摩擦力矩波动值/%", 10)
ph = bar_panel(GH, (0.034, 0.040), (2.1, 2.7), H_CLEAR, H_LOW, H_HIGH, H_PCT, 0.0013,
               [2.1, 2.2, 2.3, 2.4, 2.5, 2.6, 2.7],
               [2.15, 2.25, 2.35, 2.45, 2.55, 2.65],
               10, [0, 2, 4, 6, 8, 10], [1, 3, 5, 7, 9],
               "(h) 太空环境对摩擦力矩的影响", -6)
ph_t = side_title(GH_LAB, "摩擦力矩波动值/%", 2)

layout = column(row(pa, pb), row(pc, pd_), row(pe, pf), row(pg, pg_t, ph, ph_t))
open("out.html", "w").write(file_html(layout, INLINE))
